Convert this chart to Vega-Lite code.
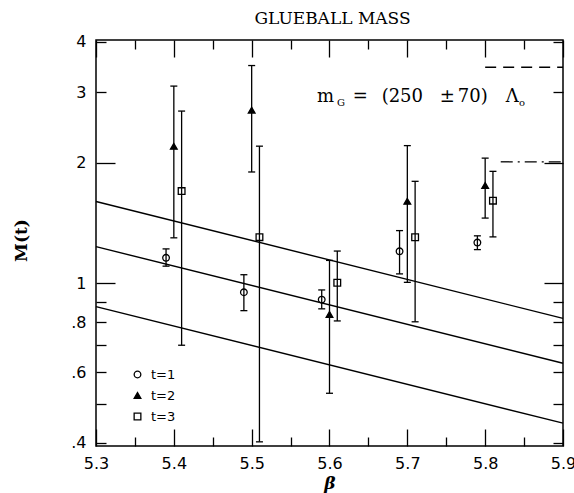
{
  "$schema": "https://vega.github.io/schema/vega-lite/v6.json",
  "width": 467,
  "height": 406,
  "autosize": {"type": "none"},
  "padding": {"left": 96, "top": 40, "right": 11, "bottom": 47},
  "config": {
    "view": {"stroke": "black", "strokeWidth": 1.5},
    "font": "DejaVu Sans",
    "axis": {"domain": false, "grid": false, "tickColor": "black", "tickWidth": 1.3, "labelColor": "black", "labelFont": "DejaVu Sans", "labelFontSize": 16, "titleColor": "black", "labelFlush": false, "labelOverlap": false},
    "legend": {"orient": "none", "legendX": 35, "legendY": 328, "title": null, "labelFont": "DejaVu Sans", "labelFontSize": 13, "labelColor": "black", "symbolStrokeWidth": 1.3, "labelOffset": 7, "rowPadding": 7, "padding": 0}
  },
  "title": {"text": "GLUEBALL MASS", "font": "DejaVu Serif", "fontSize": 17, "fontWeight": "normal", "color": "black", "anchor": "middle", "baseline": "alphabetic", "offset": 14, "dx": 3, "dy": 21},
  "datasets": {
    "lines": [
      {"line": "a", "beta": 5.3, "M": 1.60},
      {"line": "a", "beta": 5.9, "M": 0.818},
      {"line": "b", "beta": 5.3, "M": 1.235},
      {"line": "b", "beta": 5.9, "M": 0.632},
      {"line": "c", "beta": 5.3, "M": 0.875},
      {"line": "c", "beta": 5.9, "M": 0.448}
    ],
    "pts": [
      {"t": "t=1", "beta": 5.39, "M": 1.158, "lo": 1.104, "hi": 1.219},
      {"t": "t=1", "beta": 5.49, "M": 0.950, "lo": 0.855, "hi": 1.051},
      {"t": "t=1", "beta": 5.59, "M": 0.911, "lo": 0.864, "hi": 0.963},
      {"t": "t=1", "beta": 5.69, "M": 1.202, "lo": 1.056, "hi": 1.354},
      {"t": "t=1", "beta": 5.79, "M": 1.264, "lo": 1.214, "hi": 1.314},
      {"t": "t=2", "beta": 5.40, "M": 2.197, "lo": 1.299, "hi": 3.105},
      {"t": "t=2", "beta": 5.50, "M": 2.703, "lo": 1.896, "hi": 3.494},
      {"t": "t=2", "beta": 5.60, "M": 0.837, "lo": 0.532, "hi": 1.141},
      {"t": "t=2", "beta": 5.70, "M": 1.602, "lo": 1.006, "hi": 2.206},
      {"t": "t=2", "beta": 5.80, "M": 1.755, "lo": 1.455, "hi": 2.053},
      {"t": "t=3", "beta": 5.41, "M": 1.699, "lo": 0.701, "hi": 2.690},
      {"t": "t=3", "beta": 5.51, "M": 1.304, "lo": 0.4025, "hi": 2.199},
      {"t": "t=3", "beta": 5.61, "M": 1.004, "lo": 0.806, "hi": 1.204},
      {"t": "t=3", "beta": 5.71, "M": 1.303, "lo": 0.802, "hi": 1.797},
      {"t": "t=3", "beta": 5.81, "M": 1.608, "lo": 1.306, "hi": 1.903}
    ],
    "dash": [{"beta": 5.8, "beta2": 5.9, "M": 3.46}],
    "dashdot": [{"beta": 5.82, "beta2": 5.9, "M": 2.01}],
    "note": [
      {"beta": 5.584, "M": 2.83, "s": "m"},
      {"beta": 5.630, "M": 2.83, "s": "="},
      {"beta": 5.667, "M": 2.83, "s": "(250"},
      {"beta": 5.7416, "M": 2.83, "s": "±"},
      {"beta": 5.7648, "M": 2.83, "s": "70)"},
      {"beta": 5.8265, "M": 2.83, "s": "Λ"}
    ],
    "sub": [
      {"beta": 5.6097, "M": 2.83, "s": "G"},
      {"beta": 5.8435, "M": 2.83, "s": "o"}
    ]
  },
  "resolve": {"axis": {"x": "independent", "y": "independent"}},
  "layer": [
    {
      "data": {"name": "lines"},
      "mark": {"type": "line", "color": "black", "strokeWidth": 1.4},
      "encoding": {
        "x": {"field": "beta", "type": "quantitative",
          "scale": {"domain": [5.3, 5.9], "nice": false, "zero": false},
          "axis": {"orient": "bottom",
            "values": [5.3, 5.35, 5.4, 5.45, 5.5, 5.55, 5.6, 5.65, 5.7, 5.75, 5.8, 5.85, 5.9],
            "tickSize": {"condition": {"test": "abs(datum.value*10 - round(datum.value*10)) < 0.01", "value": -17}, "value": -9},
            "labelExpr": "abs(datum.value*10 - round(datum.value*10)) < 0.01 ? format(datum.value, '.1f') : ''",
            "labelPadding": 26, "labelBaseline": "top",
            "title": "β", "titleFont": "DejaVu Serif", "titleFontSize": 17, "titleFontWeight": "bold", "titleFontStyle": "italic",
            "titleY": 42, "titleBaseline": "alphabetic"}},
        "y": {"field": "M", "type": "quantitative",
          "scale": {"type": "log", "domain": [0.393, 4.046], "nice": false},
          "axis": {"orient": "left",
            "values": [0.4, 0.5, 0.6, 0.7, 0.8, 0.9, 1, 2, 3, 4],
            "tickSize": {"condition": {"test": "datum.value == 1 || datum.value == 2", "value": -19}, "value": -10},
            "labelPadding": {"condition": {"test": "datum.value == 1 || datum.value == 2", "value": 29}, "value": 20},
            "labelExpr": "datum.value >= 1 ? format(datum.value, 'd') : (indexof([0.4, 0.6, 0.8], datum.value) >= 0 ? replace(format(datum.value, '.1f'), '0.', '.') : '')",
            "title": "M(t)", "titleFont": "DejaVu Serif", "titleFontSize": 17, "titleFontWeight": "bold",
            "titleX": -75, "titleY": 200, "titleAngle": -90, "titleAlign": "center", "titleBaseline": "middle"}},
        "detail": {"field": "line", "type": "nominal"}
      }
    },
    {
      "data": {"name": "pts"},
      "mark": {"type": "rule", "color": "black", "strokeWidth": 1.3},
      "encoding": {
        "x": {"field": "beta", "type": "quantitative", "axis": null},
        "y": {"field": "lo", "type": "quantitative", "axis": null},
        "y2": {"field": "hi"}
      }
    },
    {
      "data": {"name": "pts"},
      "mark": {"type": "tick", "orient": "horizontal", "size": 7, "thickness": 1.3, "color": "black", "opacity": 1},
      "encoding": {
        "x": {"field": "beta", "type": "quantitative", "axis": null},
        "y": {"field": "lo", "type": "quantitative", "axis": null}
      }
    },
    {
      "data": {"name": "pts"},
      "mark": {"type": "tick", "orient": "horizontal", "size": 7, "thickness": 1.3, "color": "black", "opacity": 1},
      "encoding": {
        "x": {"field": "beta", "type": "quantitative", "axis": null},
        "y": {"field": "hi", "type": "quantitative", "axis": null}
      }
    },
    {
      "data": {"name": "pts"},
      "mark": {"type": "point", "strokeWidth": 1.3, "opacity": 1},
      "encoding": {
        "x": {"field": "beta", "type": "quantitative",
          "axis": {"orient": "top",
            "values": [5.3, 5.35, 5.4, 5.45, 5.5, 5.55, 5.6, 5.65, 5.7, 5.75, 5.8, 5.85, 5.9],
            "tickSize": {"condition": {"test": "abs(datum.value*10 - round(datum.value*10)) < 0.01", "value": -17}, "value": -9},
            "labels": false, "title": null}},
        "y": {"field": "M", "type": "quantitative",
          "axis": {"orient": "right",
            "values": [0.4, 0.5, 0.6, 0.7, 0.8, 0.9, 1, 2, 3, 4],
            "tickSize": {"condition": {"test": "datum.value == 1 || datum.value == 2", "value": -19}, "value": -10},
            "labels": false, "title": null}},
        "shape": {"field": "t", "type": "nominal",
          "scale": {"domain": ["t=1", "t=2", "t=3"], "range": ["circle", "triangle-up", "square"]}},
        "fill": {"field": "t", "type": "nominal",
          "scale": {"domain": ["t=1", "t=2", "t=3"], "range": ["transparent", "black", "transparent"]}},
        "stroke": {"field": "t", "type": "nominal",
          "scale": {"domain": ["t=1", "t=2", "t=3"], "range": ["black", "black", "black"]}},
        "size": {"field": "t", "type": "nominal",
          "scale": {"domain": ["t=1", "t=2", "t=3"], "range": [44, 45, 25]}}
      }
    },
    {
      "data": {"name": "dash"},
      "mark": {"type": "rule", "color": "black", "strokeWidth": 1.3, "strokeDash": [11, 7]},
      "encoding": {
        "x": {"field": "beta", "type": "quantitative", "axis": null},
        "x2": {"field": "beta2"},
        "y": {"field": "M", "type": "quantitative", "axis": null}
      }
    },
    {
      "data": {"name": "dashdot"},
      "mark": {"type": "rule", "color": "black", "strokeWidth": 1.3, "strokeDash": [12, 5, 2, 5]},
      "encoding": {
        "x": {"field": "beta", "type": "quantitative", "axis": null},
        "x2": {"field": "beta2"},
        "y": {"field": "M", "type": "quantitative", "axis": null}
      }
    },
    {
      "data": {"name": "note"},
      "mark": {"type": "text", "font": "DejaVu Serif", "fontSize": 18, "align": "left", "baseline": "alphabetic", "color": "black"},
      "encoding": {
        "x": {"field": "beta", "type": "quantitative", "axis": null},
        "y": {"field": "M", "type": "quantitative", "axis": null},
        "text": {"field": "s"}
      }
    },
    {
      "data": {"name": "sub"},
      "mark": {"type": "text", "font": "DejaVu Serif", "fontSize": 10, "align": "left", "baseline": "alphabetic", "dy": 4, "color": "black"},
      "encoding": {
        "x": {"field": "beta", "type": "quantitative", "axis": null},
        "y": {"field": "M", "type": "quantitative", "axis": null},
        "text": {"field": "s"}
      }
    }
  ]
}
